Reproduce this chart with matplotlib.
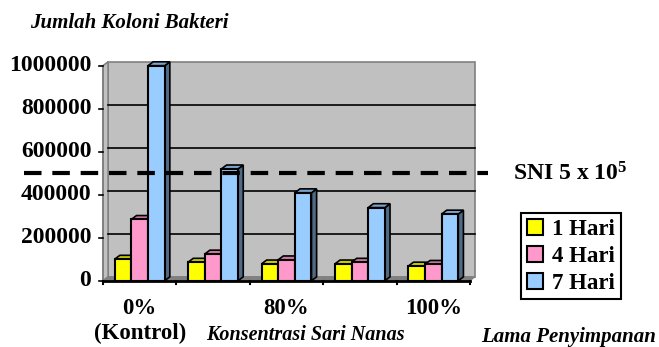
import numpy as np
import matplotlib
matplotlib.use("Agg")
import matplotlib.pyplot as plt
from matplotlib.patches import Polygon, Rectangle, Patch

plt.rcParams['font.family'] = ['Liberation Serif', 'DejaVu Serif']
plt.rcParams['font.weight'] = 'bold'
plt.rcParams['mathtext.fontset'] = 'custom'
plt.rcParams['mathtext.rm'] = 'Liberation Serif:bold'
plt.rcParams['mathtext.bf'] = 'Liberation Serif:bold'
plt.rcParams['mathtext.default'] = 'bf'

# data
kategori = ['0%\n(Kontrol)', '', '80%', '', '100%']
hari_1 = [100000, 86000, 78000, 78000, 68000]
hari_4 = [285000, 124000, 97000, 86000, 76000]
hari_7 = [1000000, 520000, 409000, 340000, 310000]
seri = ['1 Hari', '4 Hari', '7 Hari']
yticks = [0, 200000, 400000, 600000, 800000, 1000000]
sni = 500000

warna = ['#FFFF00', '#FF99CC', '#99CCFF']
warna_atas = ['#CCCC00', '#CC7AA3', '#7AA3CC']
warna_sisi = ['#999900', '#995C7A', '#4F6A85']

fig = plt.figure(figsize=(6.59, 3.47), dpi=100)
ax = fig.add_axes([0.1563, 0.1911, 0.5569, 0.6196])
ax.set_xlim(0, 5)
ax.set_ylim(0, 1000000)
ax.axis('off')

dx, dy = 0.07, 18000  # kedalaman 3D

# dinding belakang, samping dan lantai
ax.add_patch(Rectangle((dx, dy), 5, 1000000, facecolor='#C0C0C0',
                       edgecolor='#808080', lw=1.2, clip_on=False, zorder=0))
ax.add_patch(Polygon([(0, 0), (dx, dy), (dx, 1000000 + dy), (0, 1000000)],
                     facecolor='#C0C0C0', edgecolor='#808080', lw=1.2,
                     clip_on=False, zorder=0))
ax.add_patch(Polygon([(0, 0), (5, 0), (5 + dx, dy), (dx, dy)],
                     facecolor='#808080', edgecolor='#808080', lw=0.8,
                     clip_on=False, zorder=1))
for t in yticks[1:-1]:
    ax.plot([dx, 5 + dx], [t + dy, t + dy], color='black', lw=1.2,
            clip_on=False, zorder=1)

# sumbu
ax.plot([0, 5], [0, 0], color='black', lw=2, clip_on=False, zorder=5)
ax.plot([0, 0], [0, 1000000], color='#808080', lw=1.2, clip_on=False, zorder=1)
for t in yticks:
    ax.plot([-0.06, 0], [t, t], color='black', lw=1.2, clip_on=False, zorder=5)
    ax.text(-0.16, t, str(t), ha='right', va='center', fontsize=17)
for i in range(6):
    ax.plot([i, i], [0, -16000], color='black', lw=1.5, clip_on=False, zorder=5)

# batang 3D
lebar = 0.227
x = np.arange(len(kategori)) + 0.5
for j, vals in enumerate([hari_1, hari_4, hari_7]):
    for xi, v in zip(x, vals):
        x0 = xi + (j - 1) * lebar - lebar / 2
        x1 = x0 + lebar
        ax.add_patch(Polygon([(x1, 0), (x1 + dx, dy), (x1 + dx, v + dy), (x1, v)],
                             facecolor=warna_sisi[j], edgecolor='black', lw=1.2,
                             clip_on=False, zorder=3))
        ax.add_patch(Polygon([(x0, v), (x0 + dx, v + dy), (x1 + dx, v + dy), (x1, v)],
                             facecolor=warna_atas[j], edgecolor='black', lw=1.2,
                             clip_on=False, zorder=3))
        ax.add_patch(Rectangle((x0, 0), lebar, v, facecolor=warna[j],
                               edgecolor='black', lw=1.5, clip_on=False, zorder=4))

# garis SNI
ax.plot([-1.07, 5.25], [sni, sni], color='black', lw=3, dashes=(4.2, 2.6),
        clip_on=False, zorder=6)
fig.text(0.778, 0.50, 'SNI 5 x 10$^{5}$', fontsize=17, va='center', ha='left')

# label kategori
for xi, lab in zip(x, kategori):
    if lab:
        ax.text(xi, -80000, lab, ha='center', va='top', fontsize=16.5,
                linespacing=1.25)

fig.text(0.045, 0.935, 'Jumlah Koloni Bakteri', fontsize=15, style='italic',
         va='center', ha='left')
fig.text(0.464, 0.035, 'Konsentrasi Sari Nanas', fontsize=14.5, style='italic',
         va='center', ha='center')
fig.text(0.995, 0.03, 'Lama Penyimpanan', fontsize=15, style='italic',
         va='center', ha='right')

handles = [Patch(facecolor=c, edgecolor='black', lw=1.5) for c in warna]
leg = fig.legend(handles, seri, loc='center',
                 bbox_to_anchor=(0.789, 0.121, 0.155, 0.28),
                 fontsize=16.5, handlelength=0.7, handleheight=0.7,
                 handletextpad=0.4, labelspacing=0.25, borderpad=0.25,
                 borderaxespad=0, fancybox=False, framealpha=1)
leg.get_frame().set_edgecolor('black')
leg.get_frame().set_linewidth(1.5)

fig.savefig('out.png', dpi=100)
